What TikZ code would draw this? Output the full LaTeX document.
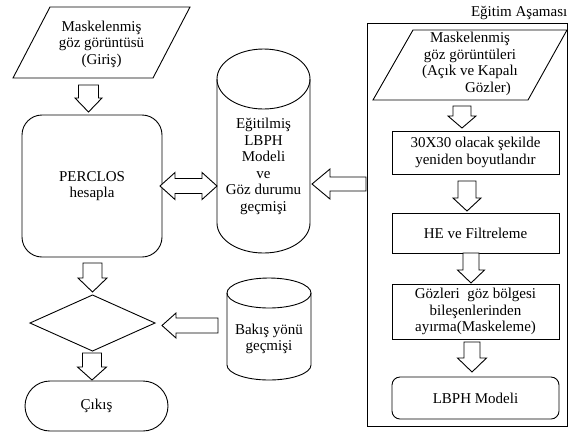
\documentclass[tikz,border=0pt]{standalone}
\usepackage{fontspec}
\setmainfont{Liberation Serif}
\newfontfamily\diagramfont{Liberation Serif}
\usetikzlibrary{calc}

% outlined block arrows, drawn between two named points
% down arrow: tail, tip, shaft half-width, head half-width, head length
\newcommand\blkdown[5]{%
  \draw[blk] let \p1=(#1), \p2=(#2) in
    (\x1-#3pt,\y1) -- (\x1+#3pt,\y1) -- (\x1+#3pt,\y2+#5pt) -- (\x1+#4pt,\y2+#5pt)
    -- (\x1,\y2) -- (\x1-#4pt,\y2+#5pt) -- (\x1-#3pt,\y2+#5pt) -- cycle;}
% left-pointing arrow: tail (right), tip (left), shaft half, head half, head length
\newcommand\blkleft[5]{%
  \draw[blk] let \p1=(#1), \p2=(#2) in
    (\x1,\y1+#3pt) -- (\x2+#5pt,\y1+#3pt) -- (\x2+#5pt,\y1+#4pt) -- (\x2,\y1)
    -- (\x2+#5pt,\y1-#4pt) -- (\x2+#5pt,\y1-#3pt) -- (\x1,\y1-#3pt) -- cycle;}
% two-headed arrow: left tip, right tip, shaft half, head half, head length
\newcommand\blkboth[5]{%
  \draw[blk] let \p1=(#1), \p2=(#2) in
    (\x1,\y1) -- (\x1+#5pt,\y1+#4pt) -- (\x1+#5pt,\y1+#3pt) -- (\x2-#5pt,\y1+#3pt)
    -- (\x2-#5pt,\y1+#4pt) -- (\x2,\y1) -- (\x2-#5pt,\y1-#4pt) -- (\x2-#5pt,\y1-#3pt)
    -- (\x1+#5pt,\y1-#3pt) -- (\x1+#5pt,\y1-#4pt) -- cycle;}

\tikzset{
  outline/.style={draw=black, line width=0.9pt},
  blk/.style={draw=black, line width=0.9pt, fill=white, line join=miter},
  txt/.style={align=center, font=\diagramfont\fontsize{15}{16.5}\selectfont, inner sep=0pt, text=black},
  procbox/.style={outline, txt, minimum width=167pt},
}

\begin{document}
\begin{tikzpicture}[x=1pt, y=-1pt]
\useasboundingbox (0,0) rectangle (572,432);

% ---------- main flow (left) ----------
\draw[outline] (50,7) -- (190,7) -- (153,78) -- (13,78) -- cycle;
\node[txt] (girdi) at (101.5,44) {Maskelenmiş\\göz görüntüsü\\(Giriş)};

\node[outline, txt, rounded corners=20pt, minimum width=140pt, minimum height=142pt]
  (perclos) at (92,186) {PERCLOS\\hesapla};

\draw[outline] (30,323) -- (92.5,295) -- (155,323) -- (92.5,351) -- cycle;
\coordinate (karar) at (92.5,323);

\node[outline, txt, rounded corners=25pt, minimum width=143pt, minimum height=50pt]
  (cikis) at (96.5,406) {Çıkış};

% ---------- stored model cylinder ----------
\draw[outline] (263.5,79) ellipse [x radius=46.5, y radius=30];
\draw[outline] (217,79) -- (217,223)
  .. controls (217,239.57) and (237.82,253) .. (263.5,253)
  .. controls (289.18,253) and (310,239.57) .. (310,223) -- (310,79);
\node[txt] (model) at (263.5,166.5)
  {Eğitilmiş\\LBPH\\Modeli\\ve\\Göz durumu\\geçmişi};

% ---------- gaze history cylinder ----------
\draw[outline] (269,293) ellipse [x radius=42, y radius=15];
\draw[outline] (227,293) -- (227,365)
  .. controls (227,373.28) and (245.8,380) .. (269,380)
  .. controls (292.2,380) and (311,373.28) .. (311,365) -- (311,293);
\node[txt] (bakis) at (269,339) {Bakış yönü\\geçmişi};

% ---------- training stage ----------
\node[outline, minimum width=200pt, minimum height=403pt] (egitim) at (467,224.5) {};
\node[txt, anchor=east] (egitimbaslik) at (567.5,13) {Eğitim Aşaması};

\draw[outline] (413,30) -- (567,30) -- (528,100) -- (373,100) -- cycle;
\node[txt] (egitimgirdi) at (470,64)
  {Maskelenmiş\\göz görüntüleri\\(Açık ve Kapalı\\\hspace*{36pt}Gözler)};

\node[procbox, minimum height=43pt] (boyut) at (475.5,152.5)
  {30X30 olacak şekilde\\yeniden boyutlandır};
\node[procbox, minimum height=40pt] (filtre) at (475.5,233) {HE ve Filtreleme};
\node[procbox, minimum height=55pt] (maske) at (475.5,311.5)
  {Gözleri\ \ göz bölgesi\\bileşenlerinden\\ayırma(Maskeleme)};
\node[procbox, rounded corners=8pt, minimum height=42pt] (lbph) at (475.5,398) {LBPH Modeli};

% ---------- arrow end points ----------
\coordinate (a1s) at (88.5,85);   \coordinate (a1e) at (88.5,112);
\coordinate (a2s) at (92.5,263);  \coordinate (a2e) at (92.5,292);
\coordinate (a3s) at (92,353);    \coordinate (a3e) at (92,380);
\coordinate (b1s) at (462,106);   \coordinate (b1e) at (462,128);
\coordinate (b2s) at (467,181);   \coordinate (b2e) at (467,211);
\coordinate (b3s) at (471,253);   \coordinate (b3e) at (471,283);
\coordinate (b4s) at (472,342);   \coordinate (b4e) at (472,372);
\coordinate (l1s) at (366,184);   \coordinate (l1e) at (312,184);
\coordinate (l2s) at (218,325.5); \coordinate (l2e) at (162,325.5);
\coordinate (d1a) at (160,186);   \coordinate (d1b) at (217,186);

% ---------- arrows ----------
\blkdown{a1s}{a1e}{10}{13.5}{14}
\blkdown{a2s}{a2e}{9.5}{14.5}{14}
\blkdown{a3s}{a3e}{9.5}{14.5}{13}
\blkdown{b1s}{b1e}{9}{14}{12}
\blkdown{b2s}{b2e}{9}{14}{13}
\blkdown{b3s}{b3e}{8}{13.5}{13}
\blkdown{b4s}{b4e}{8}{14.5}{14}
\blkleft{l1s}{l1e}{7}{15}{18}
\blkleft{l2s}{l2e}{7.5}{12.5}{14}
\blkboth{d1a}{d1b}{7.5}{13.5}{15}
\end{tikzpicture}
\end{document}
